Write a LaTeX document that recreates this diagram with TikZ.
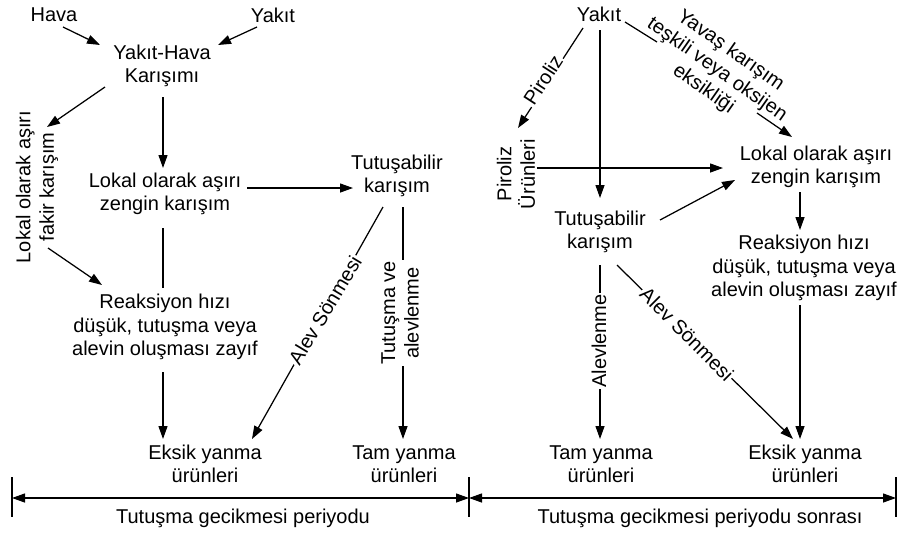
\documentclass[tikz,border=0pt]{standalone}
\usepackage{fontspec}
\setmainfont{Liberation Sans}
\usetikzlibrary{arrows.meta,calc}
\newcommand{\dgfont}{\fontsize{20}{23.5}\selectfont}
\begin{document}
\begin{tikzpicture}[x=1pt,y=-1pt,line width=1.25pt,
  >={Triangle[length=13pt,width=9pt]},
  txt/.style={align=center,font=\dgfont,inner sep=2pt},
  lab/.style={txt,fill=white,inner sep=1.5pt},
  arr/.style={->}]
\fill[white] (0,0) rectangle (899,533);
\useasboundingbox (0,0) rectangle (899,533);

% ---------- left part ----------
\node[txt] (hava) at (54,15) {Hava};
\node[txt] (yakL) at (273,15) {Yakıt};
\node[txt] (yh) at (162,66) {Yakıt-Hava\\Karışımı};
\node[txt,rotate=90] (fakir) at (37,187) {Lokal olarak aşırı\\fakir karışım};
\node[txt] (zenL) at (165,194) {Lokal olarak aşırı\\zengin karışım};
\node[txt] (reakL) at (165,327) {Reaksiyon hızı\\düşük, tutuşma veya\\alevin oluşması zayıf};
\node[txt] (tutL) at (397,176) {Tutuşabilir\\karışım};
\node[txt] (eksL) at (205,464) {Eksik yanma\\ürünleri};
\node[txt] (tamL) at (404,464) {Tam yanma\\ürünleri};
\node[txt] (per1) at (243,518) {Tutuşma gecikmesi periyodu};

\draw[arr] ($(hava)+(9,12)$) -- ($(yh)+(-62,-21)$);
\draw[arr] ($(yakL)+(-16,12)$) -- ($(yh)+(56,-21)$);
\draw[arr] ($(yh)+(-57,21)$) -- ($(fakir)+(10,-60)$);
\draw[arr] ($(yh)+(1,31)$) -- ($(zenL)+(-2,-26)$);
\draw[arr] ($(zenL)+(82,-6)$) -- ($(tutL)+(-44,12)$);
\draw[arr] ($(fakir)+(11,61)$) -- ($(reakL)+(-63,-42)$);
\draw ($(zenL)+(-2,34)$) -- ($(reakL)+(-2,-39)$);
\draw[arr] ($(reakL)+(-2,45)$) -- ($(eksL)+(-42,-25)$);
\draw[arr] ($(tutL)+(-14,31)$) -- ($(eksL)+(47,-25)$);
\draw[arr] ($(tutL)+(6,31)$) -- ($(tamL)+(-1,-25)$);
\node[lab,rotate=59] (asL) at (325,310) {Alev Sönmesi};
\node[lab,rotate=90] (tva) at (400,313) {Tutuşma ve\\alevlenme};

% ---------- right part ----------
\node[txt] (yakR) at (599,14) {Yakıt};
\node[txt,rotate=90] (pu) at (516,174) {Piroliz\\Ürünleri};
\node[txt] (zenR) at (816,167) {Lokal olarak aşırı\\zengin karışım};
\node[txt] (tutR) at (600,232) {Tutuşabilir\\karışım};
\node[txt] (reakR) at (804,268) {Reaksiyon hızı\\düşük, tutuşma veya\\alevin oluşması zayıf};
\node[txt] (tamR) at (601,464) {Tam yanma\\ürünleri};
\node[txt] (eksR) at (805,464) {Eksik yanma\\ürünleri};
\node[txt] (per2) at (700,518) {Tutuşma gecikmesi periyodu sonrası};

\draw[arr] ($(yakR)+(1,16)$) -- ($(tutR)+(0,-34)$);
\draw[arr] ($(yakR)+(-16,14)$) -- ($(pu)+(2,-46)$);
\node[lab,rotate=57] (pir) at (543,80) {Piroliz};
\coordinate (yv1) at (657,42);
\coordinate (yv2) at (757,113);
\draw ($(yakR)+(26,8)$) -- (yv1);
\draw[arr] (yv2) -- ($(zenR)+(-24,-30)$);
\node[txt,rotate=-35] (yav) at (717,70) {Yavaş karışım\\teşkili veya oksijen\\eksikliği};
\draw[arr] ($(pu)+(21,-6)$) -- ($(zenR)+(-93,1)$);
\draw[arr] ($(tutR)+(60,-12)$) -- ($(zenR)+(-81,13)$);
\draw[arr] ($(zenR)+(-16,25)$) -- ($(reakR)+(-4,-38)$);
\draw[arr] ($(reakR)+(-4,37)$) -- ($(eksR)+(-5,-25)$);
\draw[arr] ($(tutR)+(0,33)$) -- ($(tamR)+(-1,-25)$);
\node[lab,rotate=90] (alv) at (599,341) {Alevlenme};
\draw[arr] ($(tutR)+(17,33)$) -- ($(eksR)+(-12,-25)$);
\node[lab,rotate=-45] (asR) at (687,334) {Alev Sönmesi};

% ---------- time axis ----------
\coordinate (d0) at (12,498);
\coordinate (d1) at (469,498);
\coordinate (d2) at (896,498);
\foreach \d in {d0,d1,d2}
  \draw ($(\d)+(0,-21)$) -- ($(\d)+(0,19)$);
\draw[<->] (d0) -- (d1);
\draw[<->] (d1) -- (d2);
\end{tikzpicture}
\end{document}
